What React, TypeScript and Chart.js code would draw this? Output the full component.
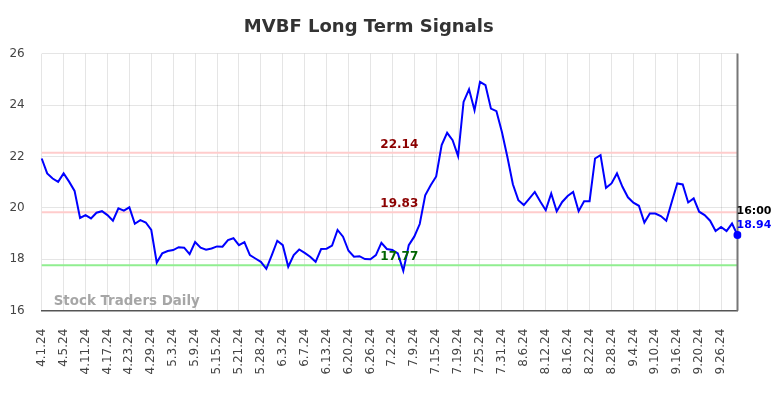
import React, { useEffect, useRef } from 'react';
import { Chart, registerables } from 'chart.js';

Chart.register(...registerables);

const chartTitle = 'MVBF Long Term Signals';
const watermarkText = 'Stock Traders Daily';
const lastTimeLabel = '16:00';

const dates = [
  '4.1.24', '4.2.24', '4.3.24', '4.4.24', '4.5.24', '4.8.24', '4.9.24', '4.10.24', '4.11.24', '4.12.24',
  '4.15.24', '4.16.24', '4.17.24', '4.18.24', '4.19.24', '4.22.24', '4.23.24', '4.24.24', '4.25.24', '4.26.24',
  '4.29.24', '4.30.24',
  '5.1.24', '5.2.24', '5.3.24', '5.6.24', '5.7.24', '5.8.24', '5.9.24', '5.10.24', '5.13.24', '5.14.24',
  '5.15.24', '5.16.24', '5.17.24', '5.20.24', '5.21.24', '5.22.24', '5.23.24', '5.24.24', '5.28.24', '5.29.24',
  '5.30.24', '5.31.24',
  '6.3.24', '6.4.24', '6.5.24', '6.6.24', '6.7.24', '6.10.24', '6.11.24', '6.12.24', '6.13.24', '6.14.24',
  '6.17.24', '6.18.24', '6.20.24', '6.21.24', '6.24.24', '6.25.24', '6.26.24', '6.27.24', '6.28.24',
  '7.1.24', '7.2.24', '7.3.24', '7.5.24', '7.8.24', '7.9.24', '7.10.24', '7.11.24', '7.12.24', '7.15.24',
  '7.16.24', '7.17.24', '7.18.24', '7.19.24', '7.22.24', '7.23.24', '7.24.24', '7.25.24', '7.26.24', '7.29.24',
  '7.30.24', '7.31.24',
  '8.1.24', '8.2.24', '8.5.24', '8.6.24', '8.7.24', '8.8.24', '8.9.24', '8.12.24', '8.13.24', '8.14.24',
  '8.15.24', '8.16.24', '8.19.24', '8.20.24', '8.21.24', '8.22.24', '8.23.24', '8.26.24', '8.27.24', '8.28.24',
  '8.29.24', '8.30.24',
  '9.3.24', '9.4.24', '9.5.24', '9.6.24', '9.9.24', '9.10.24', '9.11.24', '9.12.24', '9.13.24', '9.16.24',
  '9.17.24', '9.18.24', '9.19.24', '9.20.24', '9.23.24', '9.24.24', '9.25.24', '9.26.24', '9.27.24', '9.30.24',
  '10.1.24',
];

const prices = [
  21.92, 21.34, 21.14, 21.01, 21.34, 21.02, 20.66, 19.61, 19.72, 19.59,
  19.81, 19.87, 19.72, 19.50, 19.98, 19.89, 20.02, 19.38, 19.52, 19.43,
  19.14, 17.87, 18.23, 18.32, 18.36, 18.47, 18.45, 18.20, 18.67, 18.45,
  18.37, 18.42, 18.50, 18.49, 18.75, 18.82, 18.55, 18.67, 18.16, 18.03,
  17.90, 17.63, 18.16, 18.72, 18.55, 17.71, 18.16, 18.38, 18.25, 18.10,
  17.90, 18.40, 18.41, 18.53, 19.14, 18.88, 18.33, 18.10, 18.12, 18.01,
  18.00, 18.16, 18.64, 18.40, 18.36, 18.23, 17.55, 18.55, 18.88, 19.37,
  20.49, 20.88, 21.22, 22.44, 22.92, 22.63, 22.01, 24.12, 24.61, 23.80,
  24.90, 24.77, 23.86, 23.76, 22.95, 21.98, 20.92, 20.30, 20.11, 20.36,
  20.62, 20.25, 19.91, 20.56, 19.87, 20.23, 20.46, 20.62, 19.87, 20.26,
  20.26, 21.92, 22.05, 20.78, 20.95, 21.34, 20.82, 20.41, 20.20, 20.08,
  19.43, 19.78, 19.78, 19.68, 19.50, 20.23, 20.95, 20.91, 20.21, 20.37,
  19.85, 19.72, 19.50, 19.10, 19.26, 19.10, 19.39, 18.94,
];

const resistanceLevels = [22.14, 19.83];
const supportLevels = [17.77];

const yMin = 16;
const yMax = 26;
const yStep = 2;
const labelEvery = 4;

const FONT = "'DejaVu Sans', sans-serif";

export default function App() {
  const canvasRef = useRef<HTMLCanvasElement | null>(null);

  useEffect(() => {
    if (!canvasRef.current) return;

    const overlay = {
      id: 'signalOverlay',
      beforeDatasetsDraw(chart: any) {
        const { ctx, chartArea } = chart;
        const y = chart.scales.y;
        ctx.save();
        // watermark
        ctx.font = `bold 13.4px ${FONT}`;
        ctx.fillStyle = 'rgba(150,150,150,0.85)';
        ctx.textAlign = 'left';
        ctx.textBaseline = 'middle';
        ctx.fillText(watermarkText, chartArea.left + 12, chartArea.bottom - 9);
        // level lines
        ctx.lineWidth = 2;
        resistanceLevels.forEach((v) => {
          const py = y.getPixelForValue(v);
          ctx.strokeStyle = '#ffcccc';
          ctx.beginPath();
          ctx.moveTo(chartArea.left, py);
          ctx.lineTo(chartArea.right, py);
          ctx.stroke();
        });
        supportLevels.forEach((v) => {
          const py = y.getPixelForValue(v);
          ctx.strokeStyle = '#90ee90';
          ctx.beginPath();
          ctx.moveTo(chartArea.left, py);
          ctx.lineTo(chartArea.right, py);
          ctx.stroke();
        });
        // right border line
        ctx.strokeStyle = '#777';
        ctx.lineWidth = 2;
        ctx.beginPath();
        ctx.moveTo(chartArea.right, chartArea.top);
        ctx.lineTo(chartArea.right, chartArea.bottom);
        ctx.stroke();
        ctx.restore();
      },
      afterDatasetsDraw(chart: any) {
        const { ctx, chartArea } = chart;
        const y = chart.scales.y;
        const x = chart.scales.x;
        ctx.save();
        const labelX = chartArea.left + (chartArea.right - chartArea.left) * 0.514;
        ctx.font = `bold 12px ${FONT}`;
        ctx.textAlign = 'center';
        ctx.textBaseline = 'middle';
        resistanceLevels.forEach((v) => {
          ctx.fillStyle = '#8b0000';
          ctx.fillText(v.toFixed(2), labelX, y.getPixelForValue(v) - 8);
        });
        supportLevels.forEach((v) => {
          ctx.fillStyle = '#006400';
          ctx.fillText(v.toFixed(2), labelX, y.getPixelForValue(v) - 8);
        });
        // last value labels
        const lastIdx = prices.length - 1;
        const lastVal = prices[lastIdx];
        const px = x.getPixelForValue(lastIdx);
        const py = y.getPixelForValue(lastVal);
        ctx.font = `bold 11px ${FONT}`;
        ctx.textAlign = 'left';
        ctx.fillStyle = '#000';
        ctx.fillText(lastTimeLabel, px - 1, py - 24);
        ctx.fillStyle = '#0000ff';
        ctx.fillText(lastVal.toFixed(2), px - 1, py - 10);
        ctx.restore();
      },
    };

    const chart = new Chart(canvasRef.current, {
      type: 'line',
      data: {
        labels: dates,
        datasets: [
          {
            data: prices,
            borderColor: '#0000ff',
            backgroundColor: '#0000ff',
            borderWidth: 2,
            tension: 0,
            fill: false,
            pointRadius: (c: any) => (c.dataIndex === prices.length - 1 ? 4 : 0),
            pointHoverRadius: 0,
            pointBackgroundColor: '#0000ff',
            pointBorderWidth: 0,
          },
        ],
      },
      options: {
        responsive: false,
        animation: false,
        devicePixelRatio: 1,
        layout: { padding: { left: 0, right: 46.5, top: 0, bottom: 0 } },
        plugins: {
          legend: { display: false },
          tooltip: { enabled: false },
          title: {
            display: true,
            text: chartTitle,
            color: '#333',
            font: { family: FONT, size: 18, weight: 'bold' },
            padding: { top: 16.5, bottom: 15.5 },
          },
        },
        scales: {
          x: {
            type: 'category',
            offset: false,
            grid: { color: 'rgba(0,0,0,0.1)', drawTicks: false },
            border: { display: true, color: '#555', width: 1.5 },
            ticks: {
              autoSkip: false,
              minRotation: 90,
              maxRotation: 90,
              padding: 18,
              color: '#444',
              font: { family: FONT, size: 12 },
              callback: (_v: any, i: number) => (i % labelEvery === 0 ? dates[i] : null),
            },
            afterFit: (s: any) => {
              s.height = 87.3;
            },
          },
          y: {
            min: yMin,
            max: yMax,
            grid: { color: 'rgba(0,0,0,0.1)', drawTicks: false },
            border: { display: false },
            ticks: {
              stepSize: yStep,
              padding: 17,
              color: '#444',
              font: { family: FONT, size: 12 },
            },
            afterFit: (s: any) => {
              s.width = 41.7;
            },
          },
        },
      },
      plugins: [overlay],
    });

    return () => chart.destroy();
  }, []);

  return (
    <div style={{ position: 'absolute', left: 0, top: 0, width: 784, height: 398, background: '#fff' }}>
      <canvas ref={canvasRef} width={784} height={398} style={{ display: 'block' }} />
    </div>
  );
}
